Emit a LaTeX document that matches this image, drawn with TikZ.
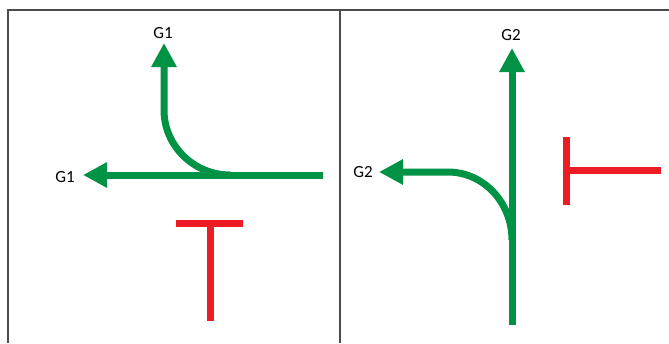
\documentclass[tikz,border=0pt]{standalone}
\usepackage{fontspec}
\setmainfont{Carlito}
\usetikzlibrary{arrows.meta}
\definecolor{laneGreen}{RGB}{0,146,69}
\definecolor{barRed}{RGB}{237,28,36}

\begin{document}
\begin{tikzpicture}[x=1pt,y=-1pt,font=\fontsize{17}{20}\selectfont,
  lane/.style={draw=laneGreen,line width=7pt,-{Triangle[length=24pt,width=24pt]}},
  barrier/.style={draw=barRed,line width=7pt},
  frame/.style={draw=black!70,line width=1.6pt}]
\useasboundingbox (0,0) rectangle (669,343);
% frame
\coordinate (tl) at (8,10); \coordinate (tr) at (669,10);
\coordinate (bl) at (8,343);
\coordinate (mt) at (340,10); \coordinate (mb) at (340,343);
\draw[frame] (bl) -- (tl) -- (tr);
\draw[frame,line width=1.2pt] (mt) -- (mb);
% left panel
\node (g1up) at (163,33) {G1};
\node (g1left) at (65,177) {G1};
\coordinate (l-in) at (323,175); \coordinate (l-fork) at (230,175);
\coordinate (l-bend) at (164,110);
\coordinate (l-uptip) at (164,43); \coordinate (l-lefttip) at (83,175);
\draw[lane] (l-in) -- (l-lefttip);
\draw[lane] (l-fork) .. controls (194,175) and (164,146) .. (l-bend) -- (l-uptip);
\coordinate (t1a) at (176,223); \coordinate (t1b) at (243,223);
\coordinate (t1c) at (210,223); \coordinate (t1d) at (210,321);
\draw[barrier] (t1a) -- (t1b);
\draw[barrier] (t1c) -- (t1d);
% right panel
\node (g2up) at (511,35) {G2};
\node (g2left) at (363,172) {G2};
\coordinate (r-in) at (512,325); \coordinate (r-fork) at (512,240);
\coordinate (r-bend) at (448,172);
\coordinate (r-uptip) at (512,48); \coordinate (r-lefttip) at (379,172);
\draw[lane] (r-in) -- (r-uptip);
\draw[lane] (r-fork) .. controls (512,202) and (483,172) .. (r-bend) -- (r-lefttip);
\coordinate (t2a) at (566,137); \coordinate (t2b) at (566,205);
\coordinate (t2c) at (566,170); \coordinate (t2d) at (661,170);
\draw[barrier] (t2a) -- (t2b);
\draw[barrier] (t2c) -- (t2d);
\end{tikzpicture}
\end{document}
